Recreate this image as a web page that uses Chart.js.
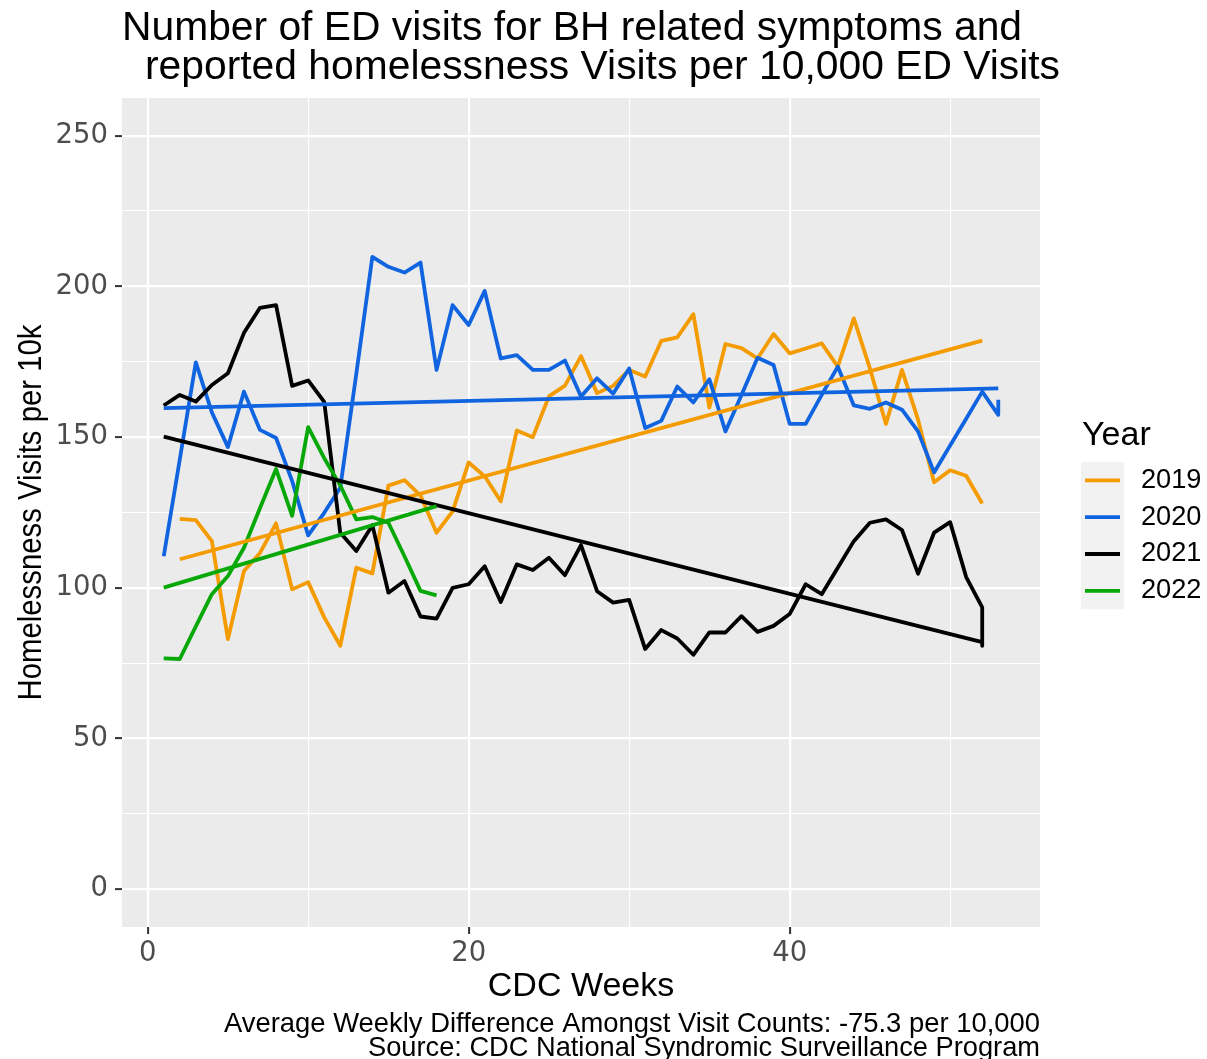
<!DOCTYPE html>
<html>
<head>
<meta charset="utf-8">
<title>ED visits for BH related symptoms and reported homelessness</title>
<script src="https://cdn.jsdelivr.net/npm/chart.js@4.4.1/dist/chart.umd.min.js"></script>
<style>
  html, body { margin: 0; padding: 0; background: #ffffff; }
  #wrap { width: 1207px; height: 1059px; }
</style>
</head>
<body>
<div id="wrap"><canvas id="chart" width="1207" height="1059"></canvas></div>
<script>
// Weekly homelessness visits per 10,000 ED visits, by CDC week
const years = ['2019', '2020', '2021', '2022'];

const weeks2019 = [2, 3, 4, 5, 6, 7, 8, 9, 10, 11, 12, 13, 14, 15, 16, 17, 18, 19, 20, 21, 22, 23, 24, 25, 26, 27,
  28, 29, 30, 31, 32, 33, 34, 35, 36, 37, 38, 39, 40, 41, 42, 43, 44, 45, 46, 47, 48, 49, 50, 51, 52];
const visits2019 = [122.9, 122.5, 115.5, 83.0, 105.6, 111.6, 121.4, 99.5, 101.9, 90.2, 80.8, 106.7, 104.8, 133.9,
  135.7, 130.6, 118.3, 125.4, 141.6, 137.0, 128.7, 152.2, 150.0, 163.5, 167.1, 176.9, 164.6, 167.0, 172.3, 170.1,
  181.9, 183.1, 190.8, 159.8, 180.9, 179.5, 176.1, 184.2, 177.8, 179.4, 181.1, 173.4, 189.4, 172.8, 154.4, 172.3,
  155.8, 135.0, 139.0, 137.2, 128.0];

const weeks2020 = [1, 2, 3, 4, 5, 6, 7, 8, 9, 10, 11, 12, 13, 14, 15, 16, 17, 18, 19, 20, 21, 22, 23, 24, 25, 26, 27,
  28, 29, 30, 31, 32, 33, 34, 35, 36, 37, 38, 39, 40, 41, 42, 43, 44, 45, 46, 47, 48, 49, 50, 51, 52, 53, 53];
const visits2020 = [110.5, 142.6, 174.8, 158.2, 146.7, 165.1, 152.4, 149.7, 135.5, 117.4, 124.9, 133.2, 171.0, 209.8,
  206.5, 204.6, 207.9, 172.3, 193.8, 187.2, 198.5, 176.1, 177.2, 172.3, 172.3, 175.4, 163.5, 169.5, 164.4, 172.8,
  153.0, 155.4, 166.8, 161.5, 169.2, 151.9, 164.0, 176.3, 173.9, 154.4, 154.4, 164.0, 173.4, 160.5, 159.4, 161.5,
  159.1, 151.9, 138.3, 147.2, 156.1, 165.1, 157.4, 162.4];

const weeks2021 = [1, 2, 3, 4, 5, 6, 7, 8, 9, 10, 11, 12, 13, 14, 15, 16, 17, 18, 19, 20, 21, 22, 23, 24, 25, 26, 27,
  28, 29, 30, 31, 32, 33, 34, 35, 36, 37, 38, 39, 40, 41, 42, 43, 44, 45, 46, 47, 48, 49, 50, 51, 52, 52];
const visits2021 = [160.5, 164.0, 161.8, 167.3, 171.2, 184.6, 192.9, 193.8, 167.0, 168.8, 161.7, 118.3, 112.2, 120.8,
  98.4, 102.3, 90.5, 89.8, 100.0, 101.2, 107.2, 95.3, 107.8, 105.9, 110.0, 104.2, 114.2, 98.9, 95.1, 96.0, 79.7,
  86.0, 83.2, 77.8, 85.2, 85.2, 90.6, 85.4, 87.4, 91.3, 101.2, 97.9, 106.7, 115.5, 121.6, 122.7, 119.2, 104.7,
  118.3, 121.8, 103.6, 93.5, 80.8];

const weeks2022 = [1, 2, 3, 4, 5, 6, 7, 8, 9, 10, 11, 12, 13, 14, 15, 16, 17, 18];
const visits2022 = [76.6, 76.4, 87.2, 97.9, 103.9, 113.3, 126.5, 139.4, 123.9, 153.3, 143.0, 134.0, 122.7, 123.5,
  121.6, 110.5, 99.0, 97.5];

// Linear trend fitted per year: first and last week with fitted values
const trendWeeks2019 = [2, 52];   const trend2019 = [109.5, 182.0];
const trendWeeks2020 = [1, 53];   const trend2020 = [159.6, 166.2];
const trendWeeks2021 = [1, 52];   const trend2021 = [150.2, 82.0];
const trendWeeks2022 = [1, 18];   const trend2022 = [100.1, 127.1];

// Axis breaks
const yMajorTicks = [0, 50, 100, 150, 200, 250];
const yMinorTicks = [25, 75, 125, 175, 225];
const xMajorTicks = [0, 20, 40];
const xMinorTicks = [10, 30, 50];

const titleLines = ['Number of ED visits for BH related symptoms and',
                    'reported homelessness Visits per 10,000 ED Visits'];
const xTitle = 'CDC Weeks';
const yTitle = 'Homelessness Visits per 10k';
const legendTitle = 'Year';
const captionLines = ['Average Weekly Difference Amongst Visit Counts: -75.3 per 10,000',
                      'Source: CDC National Syndromic Surveillance Program'];

const colors = { '2019': '#F49B00', '2020': '#1064E0', '2021': '#000000', '2022': '#08A808' };

const FONT = "'Liberation Sans', Arial, sans-serif";
const TICK_FONT = "'DejaVu Sans', 'Liberation Sans', sans-serif";
const LINE_W = 3.8;

function pts(xs, ys) { return xs.map((x, i) => ({ x: x, y: ys[i] })); }

const series = {
  '2019': [weeks2019, visits2019, trendWeeks2019, trend2019],
  '2020': [weeks2020, visits2020, trendWeeks2020, trend2020],
  '2021': [weeks2021, visits2021, trendWeeks2021, trend2021],
  '2022': [weeks2022, visits2022, trendWeeks2022, trend2022]
};

const datasets = [];
years.forEach((yr, i) => {
  const s = series[yr];
  datasets.push({
    label: yr,
    data: pts(s[0], s[1]),
    borderColor: colors[yr],
    borderWidth: LINE_W,
    pointRadius: 0,
    tension: 0,
    borderJoinStyle: 'round',
    borderCapStyle: 'butt',
    order: 8 - i
  });
});
years.forEach((yr, i) => {
  const s = series[yr];
  datasets.push({
    label: yr + ' trend',
    data: pts(s[2], s[3]),
    borderColor: colors[yr],
    borderWidth: LINE_W,
    pointRadius: 0,
    tension: 0,
    borderCapStyle: 'butt',
    order: 4 - i
  });
});

const isMajorY = v => yMajorTicks.includes(v);
const isMajorX = v => xMajorTicks.includes(v);

// Text drawn along a baseline, squeezed or widened to the given width
function fitText(ctx, text, x, y, width, align) {
  const w = ctx.measureText(text).width;
  const sx = width ? width / w : 1;
  ctx.save();
  let left = x;
  if (align === 'right') left = x - w * sx;
  else if (align === 'center') left = x - w * sx / 2;
  ctx.translate(left, y);
  ctx.scale(sx, 1);
  ctx.textAlign = 'left';
  ctx.fillText(text, 0, 0);
  ctx.restore();
}

const decor = {
  id: 'decor',
  beforeDraw(chart) {
    const { ctx, chartArea: a } = chart;
    ctx.save();
    ctx.fillStyle = '#ffffff';
    ctx.fillRect(0, 0, chart.width, chart.height);
    ctx.fillStyle = '#EBEBEB';
    ctx.fillRect(a.left, a.top, a.right - a.left, a.bottom - a.top);
    ctx.restore();
  },
  afterDraw(chart) {
    const { ctx, chartArea: a } = chart;
    ctx.save();
    ctx.fillStyle = '#000000';
    ctx.textBaseline = 'alphabetic';

    // plot title
    ctx.font = '40.8px ' + FONT;
    fitText(ctx, titleLines[0], a.left, 40, 900, 'left');
    fitText(ctx, titleLines[1], a.left + 23, 79, 915, 'left');

    // axis titles
    ctx.font = '34px ' + FONT;
    fitText(ctx, xTitle, (a.left + a.right) / 2, 996, null, 'center');
    ctx.save();
    ctx.translate(41, (a.top + a.bottom) / 2);
    ctx.rotate(-Math.PI / 2);
    fitText(ctx, yTitle, 0, 0, 376, 'center');
    ctx.restore();

    // caption
    ctx.font = '27.2px ' + FONT;
    fitText(ctx, captionLines[0], a.right, 1032, 816, 'right');
    fitText(ctx, captionLines[1], a.right, 1056, 672, 'right');

    // legend
    ctx.font = '34px ' + FONT;
    fitText(ctx, legendTitle, 1082, 445, null, 'left');
    const keyLeft = 1081, keyW = 43, keyTop = 462, keyH = 36.8;
    ctx.fillStyle = '#F2F2F2';
    ctx.fillRect(keyLeft, keyTop, keyW, keyH * years.length);
    ctx.font = '27.2px ' + FONT;
    years.forEach((yr, i) => {
      const cy = keyTop + keyH * (i + 0.5);
      ctx.strokeStyle = colors[yr];
      ctx.lineWidth = LINE_W;
      ctx.lineCap = 'butt';
      ctx.beginPath();
      ctx.moveTo(keyLeft + 4, cy);
      ctx.lineTo(keyLeft + keyW - 4, cy);
      ctx.stroke();
      ctx.fillStyle = '#000000';
      ctx.textBaseline = 'middle';
      fitText(ctx, yr, 1141, cy, null, 'left');
      ctx.textBaseline = 'alphabetic';
    });
    ctx.restore();
  }
};

new Chart(document.getElementById('chart'), {
  type: 'line',
  data: { datasets: datasets },
  options: {
    responsive: false,
    devicePixelRatio: 1,
    animation: false,
    events: [],
    layout: { padding: { left: 0, right: 167, top: 98, bottom: 0 } },
    plugins: {
      legend: { display: false },
      title: { display: false },
      tooltip: { enabled: false }
    },
    scales: {
      x: {
        type: 'linear',
        min: -1.6,
        max: 55.6,
        afterBuildTicks(scale) {
          scale.ticks = xMajorTicks.concat(xMinorTicks).sort((p, q) => p - q).map(v => ({ value: v }));
        },
        afterFit(scale) { scale.height = 132; },
        border: { display: false },
        grid: {
          color: '#ffffff',
          lineWidth: ctx => (ctx.tick && isMajorX(ctx.tick.value)) ? 2.2 : 1.1,
          tickLength: 7,
          tickWidth: 2,
          tickColor: ctx => (ctx.tick && isMajorX(ctx.tick.value)) ? '#333333' : 'rgba(0,0,0,0)'
        },
        ticks: {
          autoSkip: false,
          maxRotation: 0,
          padding: 3,
          color: '#4D4D4D',
          font: { family: TICK_FONT, size: 27.5 },
          callback: v => isMajorX(v) ? String(v) : ''
        }
      },
      y: {
        type: 'linear',
        min: -12.5,
        max: 262.5,
        afterBuildTicks(scale) {
          scale.ticks = yMajorTicks.concat(yMinorTicks).sort((p, q) => p - q).map(v => ({ value: v }));
        },
        afterFit(scale) { scale.width = 122; },
        border: { display: false },
        grid: {
          color: '#ffffff',
          lineWidth: ctx => (ctx.tick && isMajorY(ctx.tick.value)) ? 2.2 : 1.1,
          tickLength: 7,
          tickWidth: 2,
          tickColor: ctx => (ctx.tick && isMajorY(ctx.tick.value)) ? '#333333' : 'rgba(0,0,0,0)'
        },
        ticks: {
          autoSkip: false,
          padding: 7,
          color: '#4D4D4D',
          font: { family: TICK_FONT, size: 27.5 },
          callback: v => isMajorY(v) ? String(v) : ''
        }
      }
    }
  },
  plugins: [decor]
});
</script>
</body>
</html>
